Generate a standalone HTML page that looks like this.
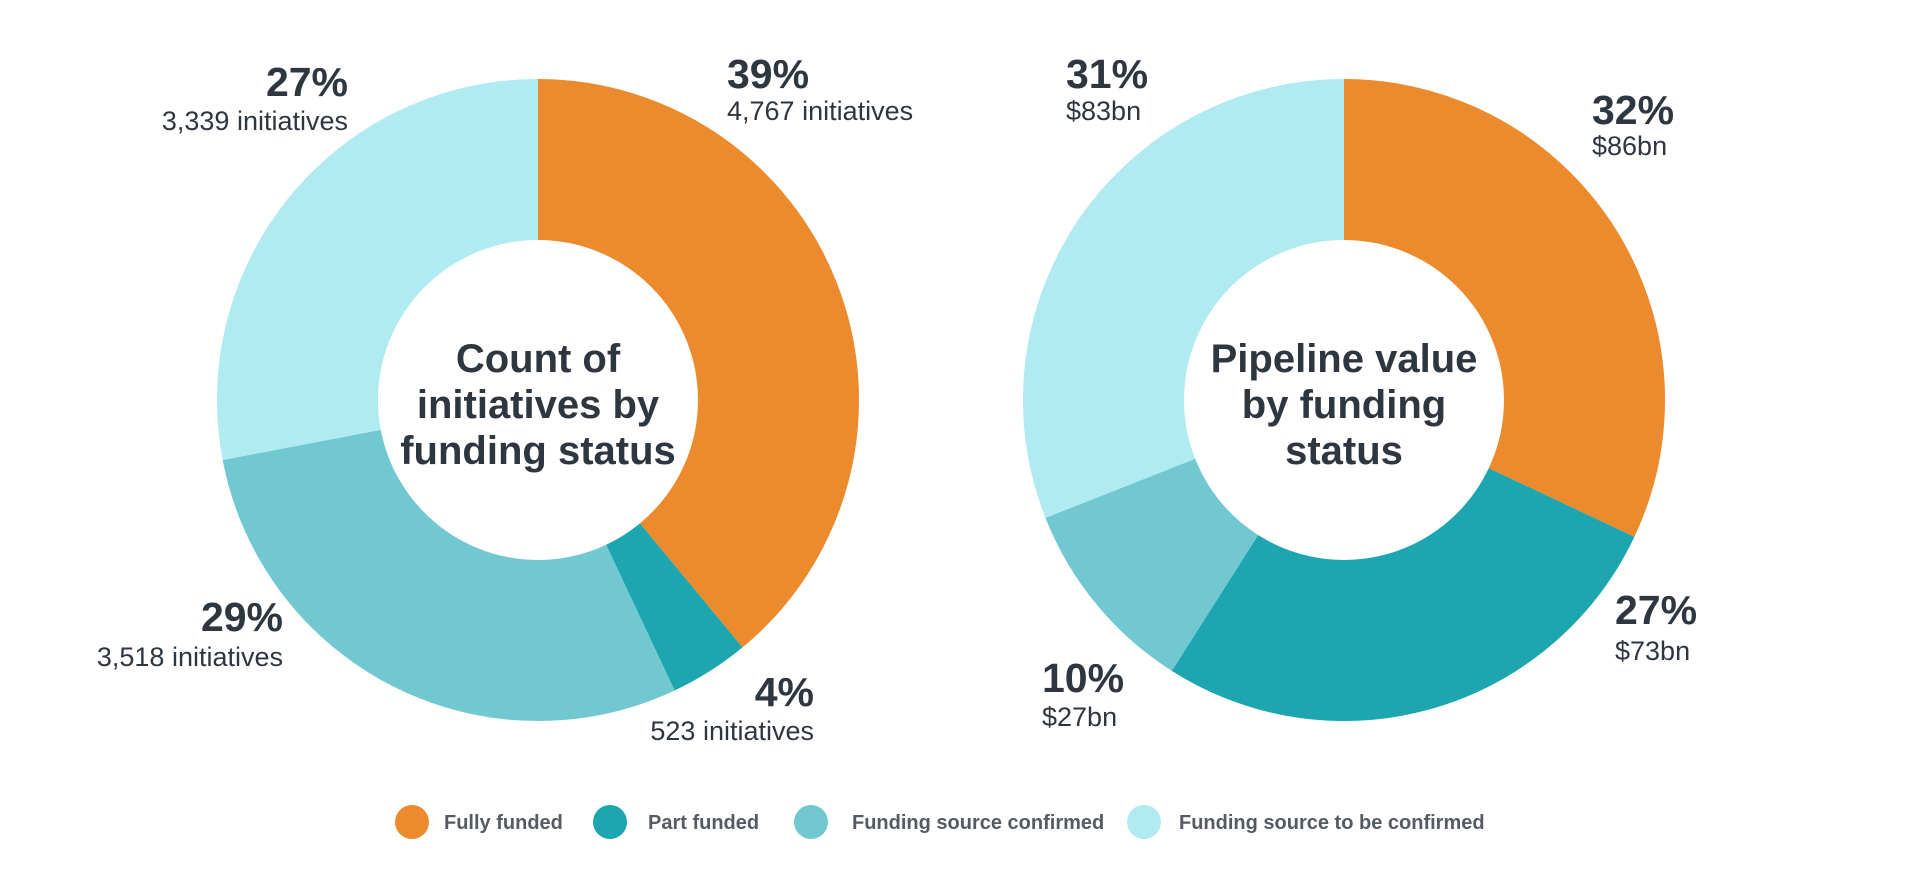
<!DOCTYPE html>
<html><head><meta charset="utf-8"><style>
html,body{margin:0;padding:0;background:#fff;}
svg{display:block;font-family:"Liberation Sans",sans-serif;}
.p{font-weight:bold;font-size:41px;fill:#2e3640;}
.s{font-size:27px;fill:#2e3640;}
.c{font-weight:bold;font-size:40px;fill:#2e3640;text-anchor:middle;}
.l{font-weight:bold;font-size:20px;fill:#555b62;}
</style></head><body>
<svg width="1920" height="885" viewBox="0 0 1920 885">
<g fill="none" stroke-width="161">
<g transform="rotate(-90 538 400)">
<circle cx="538" cy="400" r="240.5" stroke="#ec8a2e" stroke-dasharray="589.3 2000" stroke-dashoffset="0"/>
<circle cx="538" cy="400" r="240.5" stroke="#1da6b0" stroke-dasharray="60.4 2000" stroke-dashoffset="-589.3"/>
<circle cx="538" cy="400" r="240.5" stroke="#72c8d0" stroke-dasharray="438.2 2000" stroke-dashoffset="-649.7"/>
<circle cx="538" cy="400" r="240.5" stroke="#b0ebf1" stroke-dasharray="423.4 2000" stroke-dashoffset="-1087.9"/>
</g>
<g transform="rotate(-90 1344 400)">
<circle cx="1344" cy="400" r="240.5" stroke="#ec8a2e" stroke-dasharray="483.6 2000" stroke-dashoffset="0"/>
<circle cx="1344" cy="400" r="240.5" stroke="#1da6b0" stroke-dasharray="408 2000" stroke-dashoffset="-483.6"/>
<circle cx="1344" cy="400" r="240.5" stroke="#72c8d0" stroke-dasharray="151.1 2000" stroke-dashoffset="-891.6"/>
<circle cx="1344" cy="400" r="240.5" stroke="#b0ebf1" stroke-dasharray="468.5 2000" stroke-dashoffset="-1042.7"/>
</g>
</g>
<text class="c" x="538" y="372">Count of</text>
<text class="c" x="538" y="418">initiatives by</text>
<text class="c" x="538" y="464">funding status</text>
<text class="c" x="1344" y="372">Pipeline value</text>
<text class="c" x="1344" y="418">by funding</text>
<text class="c" x="1344" y="464">status</text>

<text class="p" x="727" y="88">39%</text>
<text class="s" x="727" y="120">4,767 initiatives</text>
<text class="p" x="348" y="96" text-anchor="end">27%</text>
<text class="s" x="348" y="130" text-anchor="end">3,339 initiatives</text>
<text class="p" x="283" y="631" text-anchor="end">29%</text>
<text class="s" x="283" y="666" text-anchor="end">3,518 initiatives</text>
<text class="p" x="814" y="706" text-anchor="end">4%</text>
<text class="s" x="814" y="740" text-anchor="end">523 initiatives</text>

<text class="p" x="1066" y="88">31%</text>
<text class="s" x="1066" y="120">$83bn</text>
<text class="p" x="1592" y="124">32%</text>
<text class="s" x="1592" y="155">$86bn</text>
<text class="p" x="1615" y="624">27%</text>
<text class="s" x="1615" y="660">$73bn</text>
<text class="p" x="1042" y="692">10%</text>
<text class="s" x="1042" y="726">$27bn</text>

<circle cx="412" cy="822" r="17" fill="#ec8a2e"/>
<text class="l" x="444" y="829">Fully funded</text>
<circle cx="610" cy="822" r="17" fill="#1da6b0"/>
<text class="l" x="648" y="829">Part funded</text>
<circle cx="811" cy="822" r="17" fill="#72c8d0"/>
<text class="l" x="852" y="829">Funding source confirmed</text>
<circle cx="1144" cy="822" r="17" fill="#b0ebf1"/>
<text class="l" x="1179" y="829">Funding source to be confirmed</text>
</svg>
</body></html>
